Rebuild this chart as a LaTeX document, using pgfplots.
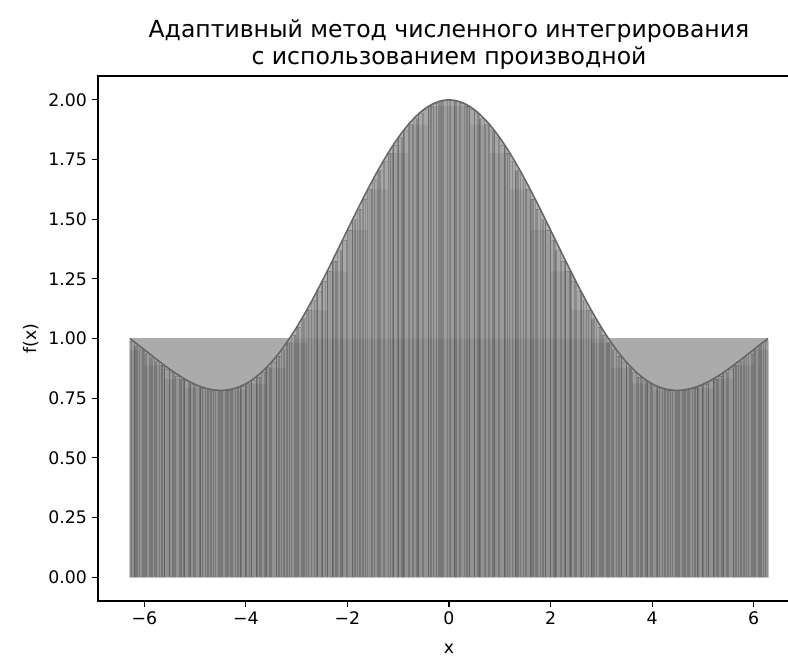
\documentclass[border=0pt]{standalone}
\usepackage{fontspec}
\setmainfont{DejaVu Sans}
\usepackage{pgfplots}
\usepackage{pgfplotstable}
\pgfplotsset{compat=1.18}
\definecolor{sidec}{RGB}{171,171,171}
\definecolor{topc}{RGB}{178,178,178}
\definecolor{lowc}{RGB}{166,166,166}
\definecolor{curvec}{RGB}{102,102,102}

% f(x) sampled
\pgfplotstableread{
x y
-6.2832 1.0000
-6.2 0.9866
-6.1 0.9701
-6.0 0.9534
-5.9 0.9366
-5.8 0.9199
-5.7 0.9034
-5.6 0.8873
-5.5 0.8717
-5.4 0.8569
-5.3 0.8430
-5.2 0.8301
-5.1 0.8185
-5.0 0.8082
-4.9 0.7995
-4.8 0.7925
-4.7 0.7872
-4.6 0.7840
-4.5 0.7828
-4.4 0.7837
-4.3 0.7869
-4.2 0.7925
-4.1 0.8004
-4.0 0.8108
-3.9 0.8236
-3.8 0.8390
-3.7 0.8568
-3.6 0.8771
-3.5 0.8998
-3.4 0.9248
-3.3 0.9522
-3.2 0.9818
-3.1 1.0134
-3.0 1.0470
-2.9 1.0825
-2.8 1.1196
-2.7 1.1583
-2.6 1.1983
-2.5 1.2394
-2.4 1.2814
-2.3 1.3242
-2.2 1.3675
-2.1 1.4110
-2.0 1.4546
-1.9 1.4981
-1.8 1.5410
-1.7 1.5833
-1.6 1.6247
-1.5 1.6650
-1.4 1.7039
-1.3 1.7412
-1.2 1.7767
-1.1 1.8102
-1.0 1.8415
-0.9 1.8704
-0.8 1.8967
-0.7 1.9203
-0.6 1.9411
-0.5 1.9589
-0.4 1.9736
-0.3 1.9851
-0.2 1.9933
-0.1 1.9983
0.0 2.0000
0.1 1.9983
0.2 1.9933
0.3 1.9851
0.4 1.9736
0.5 1.9589
0.6 1.9411
0.7 1.9203
0.8 1.8967
0.9 1.8704
1.0 1.8415
1.1 1.8102
1.2 1.7767
1.3 1.7412
1.4 1.7039
1.5 1.6650
1.6 1.6247
1.7 1.5833
1.8 1.5410
1.9 1.4981
2.0 1.4546
2.1 1.4110
2.2 1.3675
2.3 1.3242
2.4 1.2814
2.5 1.2394
2.6 1.1983
2.7 1.1583
2.8 1.1196
2.9 1.0825
3.0 1.0470
3.1 1.0134
3.2 0.9818
3.3 0.9522
3.4 0.9248
3.5 0.8998
3.6 0.8771
3.7 0.8568
3.8 0.8390
3.9 0.8236
4.0 0.8108
4.1 0.8004
4.2 0.7925
4.3 0.7869
4.4 0.7837
4.5 0.7828
4.6 0.7840
4.7 0.7872
4.8 0.7925
4.9 0.7995
5.0 0.8082
5.1 0.8185
5.2 0.8301
5.3 0.8430
5.4 0.8569
5.5 0.8717
5.6 0.8873
5.7 0.9034
5.8 0.9199
5.9 0.9366
6.0 0.9534
6.1 0.9701
6.2 0.9866
6.2832 1.0000
}\curve

% fine subintervals: left end, rectangle height
\pgfplotstableread{
x y
-6.2832 0.9866
-6.2 0.9701
-6.1 0.9534
-6.0 0.9366
-5.9 0.9199
-5.8 0.9034
-5.7 0.8873
-5.6 0.8717
-5.5 0.8569
-5.4 0.8430
-5.3 0.8301
-5.2 0.8185
-5.1 0.8082
-5.0 0.7995
-4.9 0.7925
-4.8 0.7872
-4.7 0.7840
-4.6 0.7828
-4.5 0.7828
-4.4 0.7837
-4.3 0.7869
-4.2 0.7925
-4.1 0.8004
-4.0 0.8108
-3.9 0.8236
-3.8 0.8390
-3.7 0.8568
-3.6 0.8771
-3.5 0.8998
-3.4 0.9248
-3.3 0.9522
-3.2 0.9818
-3.1 1.0134
-3.0 1.0470
-2.9 1.0825
-2.8 1.1196
-2.7 1.1583
-2.6 1.1983
-2.5 1.2394
-2.4 1.2814
-2.3 1.3242
-2.2 1.3675
-2.1 1.4110
-2.0 1.4546
-1.9 1.4981
-1.8 1.5410
-1.7 1.5833
-1.6 1.6247
-1.5 1.6650
-1.4 1.7039
-1.3 1.7412
-1.2 1.7767
-1.1 1.8102
-1.0 1.8415
-0.9 1.8704
-0.8 1.8967
-0.7 1.9203
-0.6 1.9411
-0.5 1.9589
-0.4 1.9736
-0.3 1.9851
-0.2 1.9933
-0.1 1.9983
0.0 1.9983
0.1 1.9933
0.2 1.9851
0.3 1.9736
0.4 1.9589
0.5 1.9411
0.6 1.9203
0.7 1.8967
0.8 1.8704
0.9 1.8415
1.0 1.8102
1.1 1.7767
1.2 1.7412
1.3 1.7039
1.4 1.6650
1.5 1.6247
1.6 1.5833
1.7 1.5410
1.8 1.4981
1.9 1.4546
2.0 1.4110
2.1 1.3675
2.2 1.3242
2.3 1.2814
2.4 1.2394
2.5 1.1983
2.6 1.1583
2.7 1.1196
2.8 1.0825
2.9 1.0470
3.0 1.0134
3.1 0.9818
3.2 0.9522
3.3 0.9248
3.4 0.8998
3.5 0.8771
3.6 0.8568
3.7 0.8390
3.8 0.8236
3.9 0.8108
4.0 0.8004
4.1 0.7925
4.2 0.7869
4.3 0.7837
4.4 0.7828
4.5 0.7828
4.6 0.7840
4.7 0.7872
4.8 0.7925
4.9 0.7995
5.0 0.8082
5.1 0.8185
5.2 0.8301
5.3 0.8430
5.4 0.8569
5.5 0.8717
5.6 0.8873
5.7 0.9034
5.8 0.9199
5.9 0.9366
6.0 0.9534
6.1 0.9701
6.2 0.9866
6.2832 0
}\fine

% coarse subintervals
\pgfplotstableread{
x y
-6.2832 0.9534
-6.0 0.8873
-5.6 0.8301
-5.2 0.7925
-4.8 0.7828
-4.4 0.7837
-4.0 0.8108
-3.6 0.8771
-3.2 0.9818
-2.8 1.1196
-2.4 1.2814
-2.0 1.4546
-1.6 1.6247
-1.2 1.7767
-0.8 1.8967
-0.4 1.9736
0.0 1.9736
0.4 1.8967
0.8 1.7767
1.2 1.6247
1.6 1.4546
2.0 1.2814
2.4 1.1196
2.8 0.9818
3.2 0.8771
3.6 0.8108
4.0 0.7837
4.4 0.7828
4.8 0.7925
5.2 0.8301
5.6 0.8873
6.0 0.9534
6.2832 0
}\coarse

% irregular subinterval edges (x, edge height)
\pgfplotstableread{
x y
-6.25 0.9866
-6.18 0.9701
-6.14 0.9701
-6.03 0.9534
-5.97 0.9366
-5.88 0.9199
-5.85 0.9199
-5.77 0.9034
-5.65 0.8873
-5.60 0.8873
-5.50 0.8717
-5.43 0.8569
-5.39 0.8430
-5.28 0.8301
-5.22 0.8301
-5.13 0.8185
-5.10 0.8185
-5.02 0.8082
-4.90 0.7995
-4.85 0.7925
-4.75 0.7872
-4.68 0.7840
-4.64 0.7840
-4.53 0.7828
-4.47 0.7828
-4.38 0.7837
-4.35 0.7837
-4.27 0.7869
-4.15 0.7925
-4.10 0.8004
-4.00 0.8108
-3.93 0.8108
-3.89 0.8236
-3.78 0.8390
-3.72 0.8390
-3.63 0.8568
-3.60 0.8771
-3.52 0.8771
-3.40 0.9248
-3.35 0.9248
-3.25 0.9522
-3.18 0.9818
-3.14 0.9818
-3.03 1.0134
-2.97 1.0470
-2.88 1.0825
-2.85 1.0825
-2.77 1.1196
-2.65 1.1583
-2.60 1.1983
-2.50 1.2394
-2.43 1.2394
-2.39 1.2814
-2.28 1.3242
-2.22 1.3242
-2.13 1.3675
-2.10 1.4110
-2.02 1.4110
-1.90 1.4981
-1.85 1.4981
-1.75 1.5410
-1.68 1.5833
-1.64 1.5833
-1.53 1.6247
-1.47 1.6650
-1.38 1.7039
-1.35 1.7039
-1.27 1.7412
-1.15 1.7767
-1.10 1.8102
-1.00 1.8415
-0.93 1.8415
-0.89 1.8704
-0.78 1.8967
-0.72 1.8967
-0.63 1.9203
-0.60 1.9411
-0.52 1.9411
-0.40 1.9736
-0.35 1.9736
-0.25 1.9851
-0.18 1.9933
-0.14 1.9933
-0.03 1.9983
0.03 1.9983
0.12 1.9933
0.15 1.9933
0.23 1.9851
0.35 1.9736
0.40 1.9736
0.50 1.9589
0.57 1.9411
0.61 1.9203
0.72 1.8967
0.78 1.8967
0.87 1.8704
0.90 1.8704
0.98 1.8415
1.10 1.8102
1.15 1.7767
1.25 1.7412
1.32 1.7039
1.36 1.7039
1.47 1.6650
1.53 1.6247
1.62 1.5833
1.65 1.5833
1.73 1.5410
1.85 1.4981
1.90 1.4981
2.00 1.4546
2.07 1.4110
2.11 1.3675
2.22 1.3242
2.28 1.3242
2.37 1.2814
2.40 1.2814
2.48 1.2394
2.60 1.1983
2.65 1.1583
2.75 1.1196
2.82 1.0825
2.86 1.0825
2.97 1.0470
3.03 1.0134
3.12 0.9818
3.15 0.9818
3.23 0.9522
3.35 0.9248
3.40 0.9248
3.50 0.8998
3.57 0.8771
3.61 0.8568
3.72 0.8390
3.78 0.8390
3.87 0.8236
3.90 0.8236
3.98 0.8108
4.10 0.8004
4.15 0.7925
4.25 0.7869
4.32 0.7837
4.36 0.7837
4.47 0.7828
4.53 0.7828
4.62 0.7840
4.65 0.7840
4.73 0.7872
4.85 0.7925
4.90 0.7995
5.00 0.8082
5.07 0.8082
5.11 0.8185
5.22 0.8301
5.28 0.8301
5.37 0.8430
5.40 0.8569
5.48 0.8569
5.60 0.8873
5.65 0.8873
5.75 0.9034
5.82 0.9199
5.86 0.9199
5.97 0.9366
6.03 0.9534
6.12 0.9701
6.15 0.9701
6.23 0.9866
}\irreg

\begin{document}
\begin{tikzpicture}
\begin{axis}[
  name=ax,
  scale only axis,
  width=505.4bp, height=378bp,
  xmin=-6.9115, xmax=6.9115,
  ymin=-0.1, ymax=2.1,
  axis line style={line width=0.8pt},
  tick style={black, line width=0.8pt},
  tick align=outside,
  major tick length=4.5pt,
  xtick pos=bottom, ytick pos=left,
  xtick={-6,-4,-2,0,2,4,6},
  xticklabels={−6,−4,−2,0,2,4,6},
  ytick={0,0.25,0.5,0.75,1,1.25,1.5,1.75,2},
  yticklabels={0.00,0.25,0.50,0.75,1.00,1.25,1.50,1.75,2.00},
  ticklabel style={font=\fontsize{12.5}{15}\selectfont},
  xlabel={x}, ylabel={f(x)},
  label style={font=\fontsize{12.5}{15}\selectfont},
  xlabel style={yshift=-7pt},
  title={Адаптивный метод численного интегрирования\\с использованием производной},
  title style={font=\fontsize{17}{20}\selectfont, align=center, yshift=-5pt},
  clip=true,
]
% outer (coarsest) rectangles
\addplot[fill=sidec, draw=none] coordinates {(-6.2832,0) (-6.2832,1) (6.2832,1) (6.2832,0)} -- cycle;
% area under curve
\addplot[fill=topc, draw=none] table {\curve} -- (axis cs:6.2832,0) -- (axis cs:-6.2832,0) -- cycle;
% area under min(f,1)
\addplot[fill=lowc, draw=none] coordinates {
(-6.2832,0) (-6.2832,1.0000) (-6.2,0.9866) (-6.0,0.9534) (-5.8,0.9199) (-5.6,0.8873) (-5.4,0.8569) (-5.2,0.8301) (-5.0,0.8082) (-4.8,0.7925) (-4.6,0.7840) (-4.5,0.7828) (-4.4,0.7837) (-4.2,0.7925) (-4.0,0.8108) (-3.8,0.8390) (-3.6,0.8771) (-3.4,0.9248) (-3.2,0.9818) (-3.1416,1.0)
(3.1416,1.0) (3.2,0.9818) (3.4,0.9248) (3.6,0.8771) (3.8,0.8390) (4.0,0.8108) (4.2,0.7925) (4.4,0.7837) (4.5,0.7828) (4.6,0.7840) (4.8,0.7925) (5.0,0.8082) (5.2,0.8301) (5.4,0.8569) (5.6,0.8873) (5.8,0.9199) (6.0,0.9534) (6.2,0.9866) (6.2832,1.0000) (6.2832,0)
} -- cycle;
% coarse subdivision rectangles
\addplot[ybar interval, fill=black, fill opacity=0.07, draw=none] table {\coarse};
% irregular subdivision edges
\addplot[ycomb, mark=none, draw=black, draw opacity=0.18, line width=1.1pt] table {\irreg};
% fine subdivision rectangles
\addplot[ybar interval, fill=black, fill opacity=0.05, draw=black, draw opacity=0.16, line width=0.6pt] table {\fine};
% the function
\addplot[curvec, line width=1.1pt, smooth] table {\curve};
\end{axis}
\pgfresetboundingbox
\path[use as bounding box] ([xshift=-70.56bp,yshift=-39.6bp]ax.south west) rectangle ([xshift=496.8bp,yshift=54.72bp]ax.north west);
\end{tikzpicture}
\end{document}
